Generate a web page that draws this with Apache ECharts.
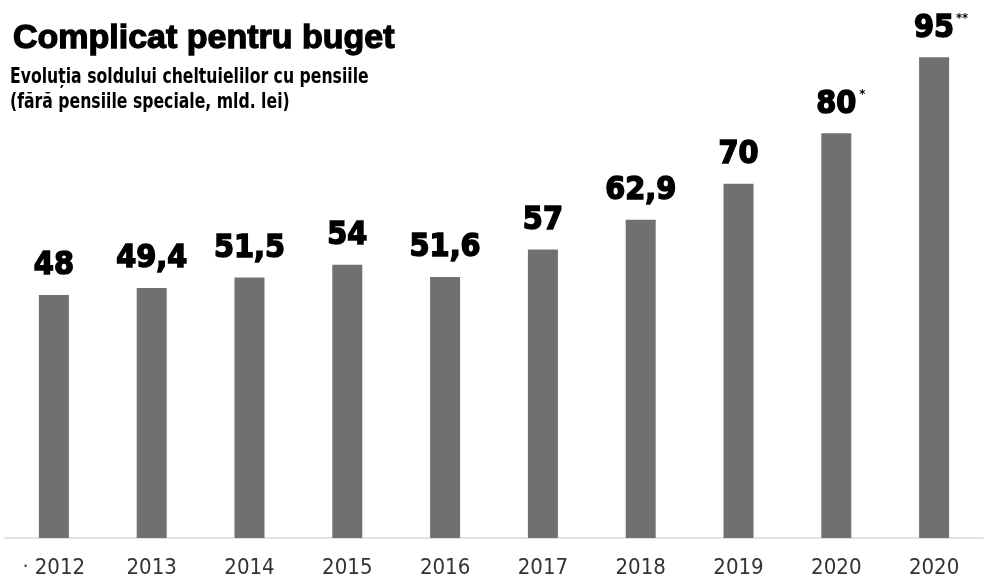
<!DOCTYPE html>
<html>
<head>
<meta charset="utf-8">
<script src="https://cdn.jsdelivr.net/npm/echarts@6/dist/echarts.min.js"></script>
<style>
html,body{margin:0;padding:0;background:#fff;}
#c{width:984px;height:579px;}
</style>
</head>
<body>
<div id="c"></div>
<script>
const categories = ['2012','2013','2014','2015','2016','2017','2018','2019','2020','2020'];
const values = [48, 49.4, 51.5, 54, 51.6, 57, 62.9, 70, 80, 95];
const valueLabels = ['48','49,4','51,5','54','51,6','57','62,9','70','80','95'];
const notes = ['','','','','','','','','*','**'];
const titleText = 'Complicat pentru buget';
const subtitleLines = ['Evoluția soldului cheltuielilor cu pensiile', '(fără pensiile speciale, mld. lei)'];

const NARROW = "'Liberation Sans Narrow','DejaVu Sans Condensed',sans-serif";
const chart = echarts.init(document.getElementById('c'));
chart.setOption({
  backgroundColor: '#ffffff',
  animation: false,
  title: [
    { text: titleText, left: 8, top: 17,
      textStyle: { fontFamily: "'Liberation Sans',Arial,sans-serif", fontWeight: 'bold', fontSize: 34, color: '#000',
        textBorderColor: '#000', textBorderWidth: 1.3 } }
  ],
  graphic: [
    { type: 'text', left: 10, top: 65, scaleX: 0.83,
      style: { text: subtitleLines.join('\n'), fontFamily: NARROW, fontWeight: 'bold', fontSize: 21, lineHeight: 25, fill: '#000' } }
  ],
  grid: { left: 5, right: 1, top: 32, bottom: 39 },
  xAxis: {
    type: 'category', data: categories,
    axisLine: { show: true, lineStyle: { color: '#d9d9d9', width: 1.5 } },
    axisTick: { show: false },
    axisLabel: {
      interval: 0, margin: 19, color: '#333', fontFamily: NARROW, fontSize: 22,
      formatter: function (v, i) { return i === 0 ? '{d|·} ' + v : v; },
      rich: { d: { fontSize: 20, color: '#333', fontFamily: NARROW } }
    }
  },
  yAxis: { type: 'value', min: 0, max: 100, show: false, splitLine: { show: false } },
  series: [{
    type: 'bar', data: values, barWidth: 30,
    itemStyle: { color: '#707070' },
    label: {
      show: true, position: 'top', distance: 13,
      formatter: function (p) {
        const n = notes[p.dataIndex];
        if (!n) return '{v|' + valueLabels[p.dataIndex] + '}';
        return '{p' + n.length + '|}{v|' + valueLabels[p.dataIndex] + '}{s' + n.length + '|' + n + '}';
      },
      rich: {
        v: { fontFamily: NARROW, fontWeight: 'bold', fontSize: 32, color: '#000', textBorderColor: '#000', textBorderWidth: 1.5, lineHeight: 32 },
        s1: { fontFamily: NARROW, fontWeight: 'bold', fontSize: 13, color: '#000', width: 9, align: 'right', verticalAlign: 'top', lineHeight: 32, padding: [0,0,20,0] },
        s2: { fontFamily: NARROW, fontWeight: 'bold', fontSize: 13, color: '#000', width: 14, align: 'right', verticalAlign: 'top', lineHeight: 32, padding: [0,0,20,0] },
        p1: { width: 9 },
        p2: { width: 14 }
      }
    }
  }]
});
</script>
</body>
</html>
